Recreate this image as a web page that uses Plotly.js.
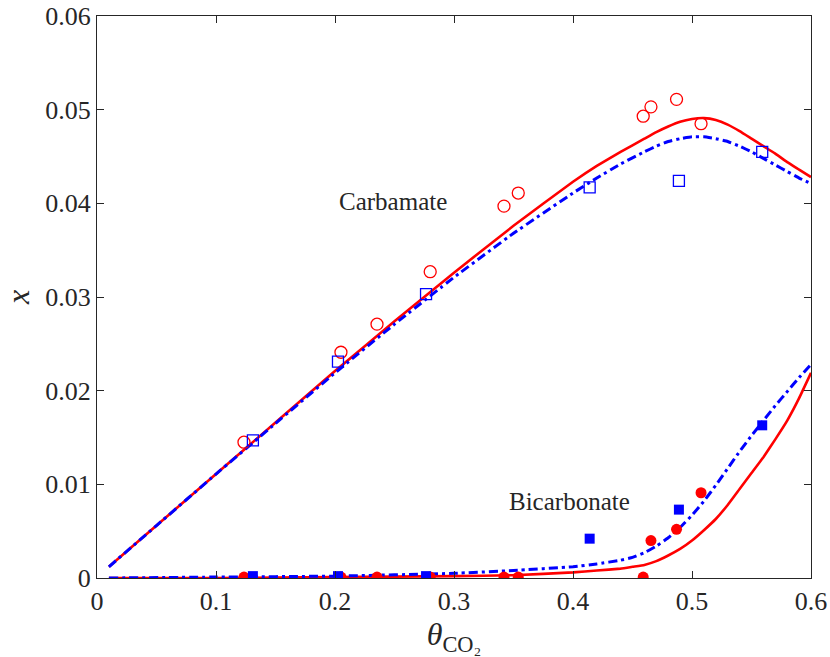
<!DOCTYPE html>
<html>
<head>
<meta charset="utf-8">
<script src="https://cdn.plot.ly/plotly-3.0.1.min.js"></script>
<style>html,body{margin:0;padding:0;background:#fff;}#chart{width:830px;height:657px;}</style>
</head>
<body>
<div id="chart"></div>
<script>
// Model curves: carbamate
const carbX    = [0.01, 0.05, 0.1, 0.15, 0.2, 0.25, 0.3, 0.35, 0.4, 0.42, 0.44, 0.46, 0.47, 0.48, 0.49, 0.5, 0.51, 0.52, 0.53, 0.54, 0.55, 0.56, 0.57, 0.58, 0.59, 0.6];
const carbRed  = [0.0012, 0.0056, 0.0111, 0.0166, 0.0221, 0.0274, 0.0326, 0.0376, 0.0423, 0.0440, 0.0455, 0.0469, 0.0476, 0.0482, 0.0487, 0.0490, 0.0491, 0.0489, 0.0484, 0.0477, 0.0469, 0.0461, 0.0453, 0.0444, 0.0436, 0.0428];
const carbBlue = [0.0012, 0.0056, 0.0111, 0.0165, 0.0219, 0.0271, 0.0321, 0.0368, 0.0411, 0.0427, 0.0442, 0.0455, 0.0461, 0.0466, 0.0469, 0.0471, 0.0471, 0.0469, 0.0466, 0.0461, 0.0455, 0.0448, 0.0441, 0.0434, 0.0427, 0.0421];

// Model curves: bicarbonate
const bicX     = [0.01, 0.1, 0.2, 0.3, 0.35, 0.4, 0.42, 0.44, 0.45, 0.46, 0.47, 0.48, 0.49, 0.5, 0.51, 0.52, 0.53, 0.54, 0.55, 0.56, 0.57, 0.58, 0.59, 0.6];
const bicRed   = [0.0000, 0.0000, 0.0001, 0.0002, 0.0003, 0.0006, 0.0008, 0.0010, 0.0012, 0.0014, 0.0018, 0.0024, 0.0031, 0.0040, 0.0051, 0.0063, 0.0078, 0.0095, 0.0112, 0.0129, 0.0148, 0.0168, 0.0192, 0.0219];
const bicBlue  = [0.0000, 0.0001, 0.0002, 0.0005, 0.0008, 0.0012, 0.0015, 0.0019, 0.0022, 0.0027, 0.0034, 0.0043, 0.0054, 0.0067, 0.0082, 0.0099, 0.0117, 0.0135, 0.0152, 0.0168, 0.0184, 0.0199, 0.0214, 0.0228];

// Experimental data (red circles)
const expRedX    = [0.1235, 0.205, 0.2353, 0.280, 0.342, 0.354, 0.459, 0.4655, 0.487, 0.5076];
const expRedCarb = [0.0145, 0.0241, 0.0271, 0.0327, 0.0397, 0.0411, 0.0493, 0.0503, 0.0511, 0.0485];
const expRedBic  = [0.0001, 0.0001, 0.0001, 0.0001, 0.0001, 0.0001, 0.0001, 0.0040, 0.0052, 0.0091];

// Experimental data (blue squares)
const expBlueX    = [0.131, 0.2025, 0.2765, 0.414, 0.489, 0.559];
const expBlueCarb = [0.0147, 0.0231, 0.0303, 0.0417, 0.0424, 0.0455];
const expBlueBic  = [0.0002, 0.0002, 0.0002, 0.0042, 0.0073, 0.0163];

const xTicks = [0, 0.1, 0.2, 0.3, 0.4, 0.5, 0.6];
const xTickText = ['0', '0.1', '0.2', '0.3', '0.4', '0.5', '0.6'];
const yTicks = [0, 0.01, 0.02, 0.03, 0.04, 0.05, 0.06];
const yTickText = ['0', '0.01', '0.02', '0.03', '0.04', '0.05', '0.06'];

const RED = '#ff0000';
const BLUE = '#0000ff';
const INK = '#262626';
const SERIF = 'Liberation Serif';
const dashDot = '9px,4px,3px,4px';

const lineShape = {shape: 'spline', smoothing: 0.3};
const traces = [
  {x: carbX, y: carbRed, mode: 'lines', line: Object.assign({color: RED, width: 2.6}, lineShape)},
  {x: bicX, y: bicRed, mode: 'lines', line: Object.assign({color: RED, width: 2.6}, lineShape)},
  {x: carbX, y: carbBlue, mode: 'lines', line: Object.assign({color: BLUE, width: 3, dash: dashDot}, lineShape)},
  {x: bicX, y: bicBlue, mode: 'lines', line: Object.assign({color: BLUE, width: 3, dash: dashDot}, lineShape)},
  {x: expRedX, y: expRedCarb, mode: 'markers', marker: {symbol: 'circle-open', size: 12, color: RED, line: {width: 1.3, color: RED}}},
  {x: expRedX, y: expRedBic, mode: 'markers', marker: {symbol: 'circle', size: 11, color: RED}},
  {x: expBlueX, y: expBlueCarb, mode: 'markers', marker: {symbol: 'square-open', size: 11, color: BLUE, line: {width: 1.3, color: BLUE}}},
  {x: expBlueX, y: expBlueBic, mode: 'markers', marker: {symbol: 'square', size: 10, color: BLUE}}
];

const axisCommon = {
  showgrid: false, zeroline: false, showline: true, mirror: 'ticks',
  linecolor: INK, linewidth: 1, ticks: 'inside', ticklen: 7, tickcolor: INK, tickwidth: 1,
  tickfont: {family: SERIF, size: 26, color: INK}
};

const layout = {
  width: 830, height: 657,
  margin: {l: 97, r: 19, t: 16, b: 79},
  paper_bgcolor: '#ffffff', plot_bgcolor: '#ffffff',
  showlegend: false,
  xaxis: Object.assign({}, axisCommon, {
    range: [0, 0.6], tickvals: xTicks, ticktext: xTickText,
    title: {text: '<i>θ</i><sub>CO₂</sub>', font: {family: SERIF, size: 32, color: INK}, standoff: 2}
  }),
  yaxis: Object.assign({}, axisCommon, {
    range: [0, 0.06], tickvals: yTicks, ticktext: yTickText,
    title: {text: '<i>x</i>', font: {family: SERIF, size: 32, color: INK}, standoff: 8}
  }),
  annotations: [
    {x: 0.249, y: 0.0402, xref: 'x', yref: 'y', text: 'Carbamate', showarrow: false,
     font: {family: SERIF, size: 25, color: INK}},
    {x: 0.397, y: 0.0082, xref: 'x', yref: 'y', text: 'Bicarbonate', showarrow: false,
     font: {family: SERIF, size: 25, color: INK}}
  ]
};

Plotly.newPlot('chart', traces, layout, {displayModeBar: false, staticPlot: true});
</script>
</body>
</html>
